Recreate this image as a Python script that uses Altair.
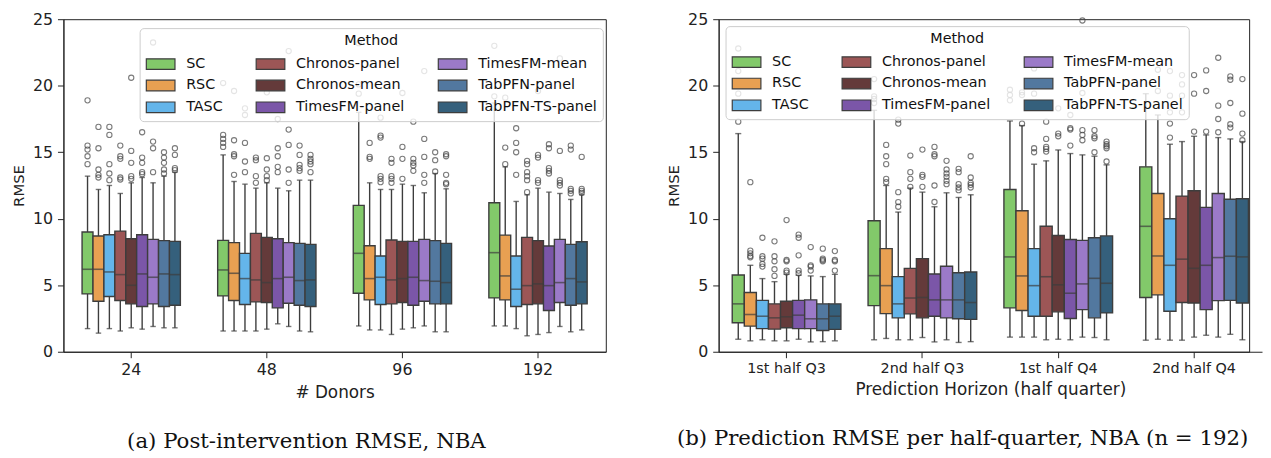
import altair as alt
import pandas as pd

# ---------------- data ----------------
methods = ["SC", "RSC", "TASC", "Chronos-panel", "Chronos-mean",
           "TimesFM-panel", "TimesFM-mean", "TabPFN-panel", "TabPFN-TS-panel"]
method_colors = ["#82c96a", "#e8a052", "#64b5ea", "#9c5656", "#643a3a",
                 "#7b56a8", "#9b7ac8", "#52789f", "#35607c"]

donors = ["24", "48", "96", "192"]
horizons = ["1st half Q3", "2nd half Q3", "1st half Q4", "2nd half Q4"]
y_ticks = [0, 5, 10, 15, 20, 25]

# Panel (a): one row per number of donors, one entry per method
a_whisker_low = [
    [1.74, 1.4, 1.74, 1.56, 1.8, 1.7, 1.9, 1.8, 1.8],
    [1.56, 1.56, 1.56, 1.56, 1.7, 2.1, 1.9, 1.56, 1.5],
    [1.94, 1.64, 1.64, 1.3, 1.7, 1.8, 1.94, 1.5, 1.5],
    [1.94, 1.94, 1.74, 1.2, 1.3, 1.44, 1.9, 1.5, 1.64],
]
a_q1 = [
    [4.35, 3.8, 4.15, 3.85, 3.6, 3.4, 3.6, 3.4, 3.5],
    [4.2, 3.85, 3.55, 3.75, 3.7, 3.3, 3.65, 3.5, 3.4],
    [4.4, 3.9, 3.55, 3.6, 3.7, 3.5, 3.8, 3.6, 3.6],
    [4.05, 3.9, 3.4, 3.55, 3.6, 3.1, 3.7, 3.5, 3.6],
]
a_median = [
    [6.2, 6.2, 6.0, 5.8, 5.0, 5.85, 5.6, 5.85, 5.8],
    [6.15, 5.9, 5.5, 5.4, 5.2, 5.5, 5.6, 5.35, 5.4],
    [7.4, 5.5, 5.6, 5.4, 5.5, 5.6, 5.35, 5.3, 5.2],
    [7.45, 5.7, 4.7, 4.97, 5.1, 4.97, 5.2, 5.5, 5.25],
]
a_q3 = [
    [9.0, 8.7, 8.8, 9.07, 8.5, 8.8, 8.45, 8.35, 8.3],
    [8.37, 8.2, 7.4, 8.9, 8.6, 8.5, 8.2, 8.15, 8.07],
    [11.0, 7.97, 7.2, 8.4, 8.3, 8.3, 8.45, 8.35, 8.15],
    [11.2, 8.77, 7.2, 8.6, 8.35, 7.95, 8.45, 8.07, 8.27],
]
a_whisker_high = [
    [13.2, 12.2, 12.5, 11.9, 12.7, 13.1, 12.7, 13.2, 13.5],
    [14.8, 12.8, 12.6, 12.3, 12.7, 12.3, 12.1, 12.9, 12.9],
    [18.0, 12.7, 12.2, 12.2, 12.6, 12.5, 11.95, 13.4, 12.25],
    [18.7, 13.9, 11.3, 11.8, 12.3, 12.0, 11.9, 11.45, 11.8],
]
a_outliers = [
    [[14.1, 14.7, 15.2, 15.5, 18.9], [13.1, 13.3, 13.7, 15.3, 16.9],
     [12.9, 13.4, 14.1, 16.3, 16.9], [12.95, 13.1, 14.5, 14.7, 15.5],
     [13.0, 13.2, 14.2, 15.1, 20.6], [13.35, 13.5, 14.2, 14.6, 16.5],
     [13.5, 15.3, 15.8, 23.25], [13.4, 13.7, 14.2, 14.6, 15.0],
     [13.65, 13.8, 14.8, 15.3]],
    [[15.4, 15.7, 16.0, 16.3, 20.2], [13.3, 14.7, 14.85, 15.9, 19.6],
     [13.5, 14.3, 15.7, 17.8, 18.3], [12.7, 13.2, 14.4, 14.6],
     [12.9, 13.2, 13.7, 14.55, 19.5], [13.5, 13.9, 14.7, 15.3, 17.5],
     [12.7, 13.7, 15.55, 16.7, 22.6], [13.6, 13.8, 14.05, 14.8, 15.5],
     [13.5, 14.1, 14.3, 14.5, 14.8]],
    [[19.4, 20.1, 23.2], [14.5, 14.65, 15.7],
     [12.75, 13.0, 13.2, 16.1, 16.25, 17.6], [12.7, 13.0, 13.2, 14.2, 14.5],
     [13.0, 14.5, 15.4, 19.45], [13.6, 14.0, 14.2, 14.5, 17.3],
     [12.7, 13.3, 14.65, 16.0, 21.1], [13.55, 14.4, 15.0],
     [12.6, 12.7, 13.3, 14.7, 14.85]],
    [[19.2, 23.0], [14.1, 15.35, 19.1],
     [13.3, 15.0, 15.7, 16.8], [12.0, 12.9, 13.2, 13.5, 14.1, 14.35],
     [12.7, 12.9, 14.6, 14.8, 19.6], [13.4, 13.6, 13.8, 15.3, 15.6],
     [12.5, 12.7, 12.9, 15.1, 22.05], [11.9, 12.1, 12.25, 15.2, 15.5],
     [11.95, 12.1, 12.25, 14.65]],
]

# Panel (b): one row per half quarter, one entry per method
b_whisker_low = [
    [0.94, 0.82, 0.9, 0.82, 0.82, 0.94, 0.74, 0.76, 0.82],
    [0.9, 1.0, 0.9, 0.9, 1.07, 0.74, 0.9, 0.7, 0.76],
    [1.1, 1.1, 1.1, 0.9, 0.94, 0.9, 1.1, 1.07, 0.9],
    [0.87, 0.94, 0.87, 0.87, 1.1, 1.24, 1.1, 1.31, 0.9],
]
b_q1 = [
    [2.18, 1.93, 1.74, 1.7, 1.8, 1.74, 1.74, 1.6, 1.68],
    [3.47, 2.87, 2.55, 2.85, 2.55, 2.67, 2.55, 2.48, 2.43],
    [3.3, 3.1, 2.67, 2.67, 3.0, 2.5, 3.17, 2.55, 2.92],
    [4.08, 4.28, 3.05, 3.7, 3.67, 3.17, 3.84, 3.86, 3.67],
]
b_median = [
    [3.6, 2.8, 2.67, 2.55, 2.63, 2.75, 2.48, 2.48, 2.67],
    [5.72, 4.97, 3.6, 4.04, 4.08, 3.9, 3.9, 3.9, 3.7],
    [7.13, 5.7, 4.97, 5.64, 5.03, 4.4, 5.1, 5.52, 5.15],
    [9.43, 7.2, 6.5, 6.96, 6.27, 6.5, 7.08, 7.18, 7.13],
]
b_q3 = [
    [5.77, 4.45, 3.86, 3.6, 3.8, 3.86, 3.9, 3.6, 3.6],
    [9.85, 7.75, 5.65, 6.27, 7.0, 5.85, 6.43, 5.94, 6.0],
    [12.2, 10.6, 7.75, 9.43, 8.74, 8.44, 8.37, 8.57, 8.71],
    [13.9, 11.9, 10.0, 11.7, 12.1, 10.85, 11.9, 11.46, 11.5],
]
b_whisker_high = [
    [16.4, 6.5, 5.5, 5.27, 5.82, 5.75, 5.7, 5.65, 5.82],
    [18.15, 12.5, 10.5, 12.3, 12.0, 10.9, 11.95, 11.6, 11.8],
    [17.35, 17.0, 14.1, 14.35, 15.17, 14.9, 14.8, 14.7, 14.05],
    [19.4, 17.8, 15.6, 15.8, 16.2, 16.3, 16.1, 16.0, 15.8],
]
b_outliers = [
    [[17.3, 19.4, 21.1, 22.8], [7.1, 7.2, 7.4, 7.6, 12.75],
     [6.4, 6.6, 7.0, 7.18, 8.57], [5.7, 6.2, 6.8, 7.18, 8.3],
     [5.95, 6.1, 6.8, 6.9, 9.9], [5.9, 6.1, 7.25, 8.57, 8.8],
     [6.1, 6.4, 6.5, 7.87], [6.8, 6.9, 7.0, 7.75], [6.1, 6.8, 6.9, 7.57]],
    [[18.7, 19.0, 19.2, 20.5], [12.75, 13.0, 14.1, 14.7, 15.55],
     [10.9, 11.25, 12.0, 17.15, 17.45], [12.4, 13.0, 13.5, 14.75],
     [12.4, 13.15, 13.3, 15.2], [11.26, 12.5, 14.7, 14.85, 15.4],
     [12.6, 12.85, 13.15, 13.4, 13.7, 14.35], [12.15, 12.35, 12.6, 13.5, 13.75],
     [12.35, 12.55, 12.7, 13.1, 14.7]],
    [[18.9, 19.3, 19.7], [17.15, 19.3, 19.5], [15.0, 15.3, 19.4, 21.3],
     [15.05, 15.25, 15.4, 16.0, 17.3], [16.2, 16.4, 18.3],
     [15.5, 16.7, 16.8, 17.8], [15.9, 16.3, 16.66, 19.45, 24.9],
     [15.0, 16.05, 16.2, 16.66], [14.3, 15.3, 15.45, 15.6, 15.8]],
    [[], [19.6, 21.2], [16.1, 17.15, 18.0, 19.25, 21.1],
     [18.0, 19.25, 20.1, 20.8], [16.55, 19.4, 20.8], [16.55, 19.6, 21.15],
     [16.5, 17.5, 18.5, 22.1], [16.85, 17.1, 18.7, 20.45, 20.7],
     [15.9, 16.4, 17.9, 20.5]],
]

# ---------------- tables built from the arrays ----------------
def box_table(cats, lo, q1, med, q3, hi):
    rows = []
    for i, c in enumerate(cats):
        for j, m in enumerate(methods):
            rows.append({"cat": c, "method": m, "lo": lo[i][j], "q1": q1[i][j],
                         "med": med[i][j], "q3": q3[i][j], "hi": hi[i][j]})
    return pd.DataFrame(rows)


def outlier_table(cats, outs):
    rows = []
    for i, c in enumerate(cats):
        for j, m in enumerate(methods):
            for v in outs[i][j]:
                rows.append({"cat": c, "method": m, "value": v})
    return pd.DataFrame(rows)


EDGE = "#3d3d3d"
AXIS_FONT = "DejaVu Sans"
SYMBOL = "M-1,-0.55H1.97V0.55H-1Z"


def panel(box_df, out_df, cats, width, x_range, pad_inner, x_title,
          x_label_size, legend_x, legend_y, caption, caption_dx, slot):
    x_axis = alt.Axis(title=x_title, labelAngle=0, labelFontSize=x_label_size,
                      titleFontSize=17, tickSize=6, labelPadding=4, titlePadding=7)
    y_axis = alt.Axis(title="RMSE", values=y_ticks, labelFontSize=16,
                      titleFontSize=15, tickSize=6, labelPadding=5, titlePadding=6)
    x_scale = alt.Scale(domain=cats, range=x_range, paddingInner=pad_inner,
                        paddingOuter=pad_inner / 2)
    y_scale = alt.Scale(domain=[0, 25], nice=False)
    off_scale = alt.Scale(domain=methods, paddingInner=0.0, paddingOuter=0.0)

    def X():
        return alt.X("cat:N", scale=x_scale, axis=x_axis)

    def XO():
        return alt.XOffset("method:N", scale=off_scale)

    def Y(field):
        return alt.Y(field, type="quantitative", scale=y_scale, axis=y_axis)

    base = alt.Chart(box_df)
    whisk_lo = base.mark_rule(color=EDGE, strokeWidth=1.4).encode(
        x=X(), xOffset=XO(), y=Y("lo"), y2="q1:Q")
    whisk_hi = base.mark_rule(color=EDGE, strokeWidth=1.4).encode(
        x=X(), xOffset=XO(), y=Y("q3"), y2="hi:Q")
    cap_lo = base.mark_tick(color=EDGE, size=slot * 0.5, thickness=1.4,
                            orient="horizontal").encode(x=X(), xOffset=XO(), y=Y("lo"))
    cap_hi = base.mark_tick(color=EDGE, size=slot * 0.5, thickness=1.4,
                            orient="horizontal").encode(x=X(), xOffset=XO(), y=Y("hi"))
    boxes = base.mark_bar(stroke=EDGE, strokeWidth=1.4, opacity=1).encode(
        x=X(), xOffset=XO(), y=Y("q1"), y2="q3:Q",
        color=alt.Color("method:N",
                        scale=alt.Scale(domain=methods, range=method_colors),
                        legend=alt.Legend(
                            title="Method", orient="none", legendX=legend_x,
                            legendY=legend_y, columns=3, titleAnchor="middle",
                            titleFontWeight="normal", titleFontSize=14.5,
                            titleFont=AXIS_FONT, labelFont=AXIS_FONT,
                            labelFontSize=14.5, titleColor="#111", labelColor="#111",
                            symbolType=SYMBOL, symbolSize=380,
                            symbolStrokeColor=EDGE, symbolStrokeWidth=1.2,
                            symbolOpacity=1, labelOffset=20, rowPadding=3,
                            columnPadding=31, padding=6, titlePadding=5,
                            fillColor="rgba(255,255,255,0.8)", strokeColor="#cccccc",
                            cornerRadius=4)))
    medians = base.mark_tick(color=EDGE, size=slot, thickness=1.6,
                             orient="horizontal").encode(x=X(), xOffset=XO(), y=Y("med"))
    outliers = alt.Chart(out_df).mark_point(
        shape="circle", filled=False, size=28, strokeWidth=1.1, color="#444444"
    ).encode(x=X(), xOffset=XO(), y=Y("value"))

    return alt.layer(whisk_lo, whisk_hi, cap_lo, cap_hi, boxes, medians, outliers).properties(
        width=width, height=336,
        title=alt.TitleParams(caption, orient="bottom", anchor="middle", frame="group",
                              font="DejaVu Serif", fontSize=21.5, fontWeight="normal",
                              color="#111", offset=31, dx=caption_dx))


left = panel(box_table(donors, a_whisker_low, a_q1, a_median, a_q3, a_whisker_high),
             outlier_table(donors, a_outliers), donors, 548, [0, 548], 0.275,
             "# Donors", 16, 77, 9, "(a) Post-intervention RMSE, NBA", -28.5, 11.0)
right = panel(box_table(horizons, b_whisker_low, b_q1, b_median, b_q3, b_whisker_high),
              outlier_table(horizons, b_outliers), horizons, 536, [0, 549], 0.2,
              "Prediction Horizon (half quarter)", 14.5, 7, 7,
              "(b) Prediction RMSE per half-quarter, NBA (n = 192)", -21.5, 12.2)

chart = alt.hconcat(left, right, spacing=60).resolve_scale(
    x="independent", y="independent", xOffset="independent", color="independent"
).resolve_legend(color="independent").properties(
    padding={"left": 3, "top": 0, "right": 0, "bottom": 0}
).configure(font=AXIS_FONT).configure_view(
    stroke="#222222", strokeWidth=1
).configure_axis(
    grid=False, domainColor="#222222", tickColor="#222222", labelColor="#222222",
    titleColor="#222222", labelFont=AXIS_FONT, titleFont=AXIS_FONT,
    titleFontWeight="normal", domainWidth=1, tickWidth=1
)

chart.save("out.html", embed_options={"renderer": "svg", "actions": False})
